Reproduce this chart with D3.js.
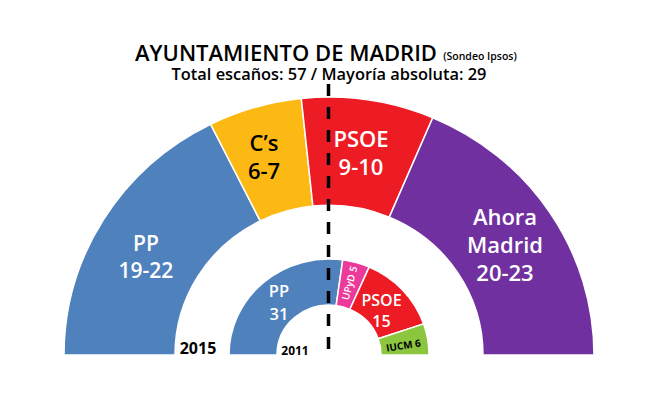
<!DOCTYPE html>
<html>
<head>
<meta charset="utf-8">
<script src="https://cdn.jsdelivr.net/npm/d3@7"></script>
<style>
  body { margin: 0; background: #fff; }
  text { font-family: "Open Sans", "Noto Sans", sans-serif; text-anchor: middle; }
</style>
</head>
<body>
<div id="chart"></div>
<script>
// seats, estimated from the arc sizes (2015 poll shown as ranges in the labels)
const parties2015 = ["PP", "C's", "PSOE", "Ahora Madrid"];
const seats2015 = [20.1, 6.5, 9.2, 21.2];
const labels2015 = [["PP", "19-22"], ["C’s", "6-7"], ["PSOE", "9-10"], ["Ahora", "Madrid", "20-23"]];
const colors2015 = ["#4f81bd", "#fdb913", "#ed1c24", "#7030a0"];
const textColors2015 = ["#fff", "#000", "#fff", "#fff"];

const parties2011 = ["PP", "UPyD", "PSOE", "IUCM"];
const seats2011 = [31, 5, 15, 6];
const colors2011 = ["#4f81bd", "#ec3a9b", "#ed1c24", "#8cc63f"];

var width = 657, height = 412;
var cx = 329, cy = 355;

var svg = d3.select("#chart").append("svg")
    .attr("width", width)
    .attr("height", height);

// both half rings are slightly flattened in the original
var g = svg.append("g")
    .attr("transform", "translate(" + cx + "," + cy + ") scale(1,0.973)");
var gSmall = svg.append("g")
    .attr("transform", "translate(" + cx + "," + cy + ") scale(1,0.96)");

var pie = d3.pie()
    .sort(null)
    .startAngle(-Math.PI / 2)
    .endAngle(Math.PI / 2);

var arc2015 = d3.arc().innerRadius(154).outerRadius(265);
var arc2011 = d3.arc().innerRadius(52).outerRadius(100);

g.selectAll("path")
    .data(pie(seats2015))
    .enter()
    .append("path")
    .attr("d", arc2015)
    .attr("fill", (d, i) => colors2015[i])
    .attr("stroke", "#fff")
    .attr("stroke-width", 1.5);

gSmall.selectAll("path")
    .data(pie(seats2011))
    .enter()
    .append("path")
    .attr("d", arc2011)
    .attr("fill", (d, i) => colors2011[i])
    .attr("stroke", "#fff")
    .attr("stroke-width", 1.5);

// majority line
svg.append("line")
    .attr("x1", cx - 0.5).attr("x2", cx - 0.5)
    .attr("y1", 84).attr("y2", 349)
    .attr("stroke", "#000")
    .attr("stroke-width", 3.5)
    .attr("stroke-dasharray", "12 11");

const addLines = function (lines, x, y, size, step, color, weight) {
    var t = svg.append("text")
        .attr("x", x).attr("y", y)
        .attr("fill", color)
        .style("font-size", size + "px")
        .style("font-weight", weight);
    lines.forEach((s, i) => {
        t.append("tspan").attr("x", x).attr("dy", i == 0 ? 0 : step).text(s);
    });
};

// big arc labels
addLines(labels2015[0], 146, 251, 21, 27, textColors2015[0], 600);
addLines(labels2015[1], 264, 151, 22, 28, textColors2015[1], 600);
addLines(labels2015[2], 361, 147, 22, 28, textColors2015[2], 600);
addLines(labels2015[3], 505, 225, 22, 28, textColors2015[3], 600);

// small arc labels
addLines(["PP", "31"], 279, 297, 16.5, 22.5, "#fff", 600);
addLines(["PSOE", "15"], 381.5, 306, 16, 21, "#fff", 600);

svg.append("text")
    .attr("transform", "translate(353,284) rotate(-75)")
    .attr("fill", "#fff")
    .style("font-size", "10px")
    .style("font-weight", 600)
    .text("UPyD 5");

svg.append("text")
    .attr("transform", "translate(404,349) rotate(-9)")
    .attr("fill", "#000")
    .style("font-size", "10px")
    .style("font-weight", 700)
    .text("IUCM 6");

addLines(["2015"], 198, 354, 16, 0, "#000", 700);
addLines(["2011"], 295, 355, 12, 0, "#000", 700);

// titles
addLines(["AYUNTAMIENTO DE MADRID"], 286, 61, 22, 0, "#000", 600);
addLines(["(Sondeo Ipsos)"], 480, 60, 10.5, 0, "#000", 600);
addLines(["Total escaños: 57 / Mayoría absoluta: 29"], 329, 80, 16.4, 0, "#000", 600);
</script>
</body>
</html>
